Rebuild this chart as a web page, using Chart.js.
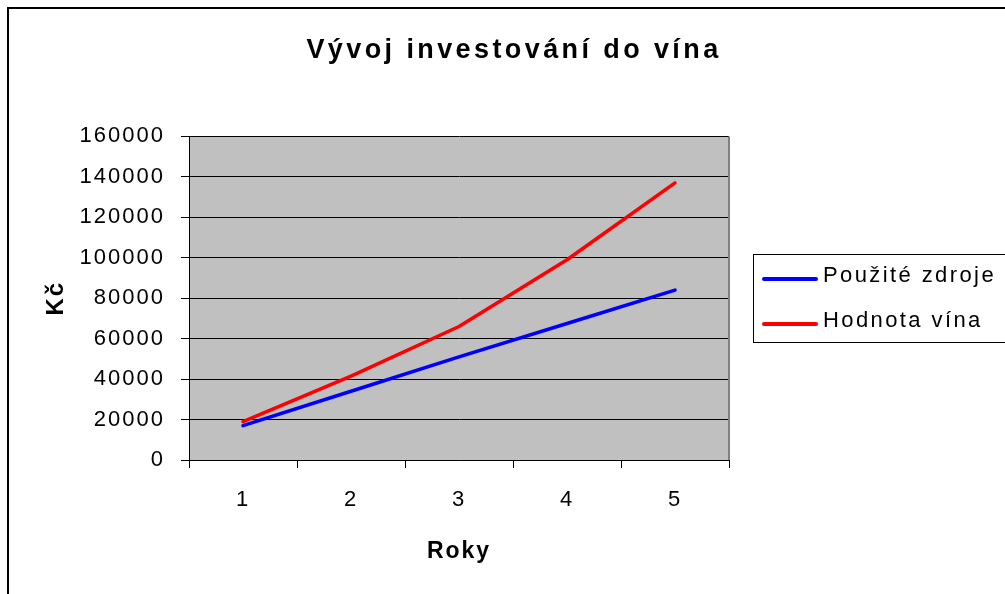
<!DOCTYPE html>
<html>
<head>
<meta charset="utf-8">
<script src="https://cdn.jsdelivr.net/npm/chart.js@4.4.1/dist/chart.umd.min.js"></script>
<style>
  html, body { margin: 0; padding: 0; background: #fff; }
  canvas { display: block; }
</style>
</head>
<body>
<canvas id="c" width="1005" height="594"></canvas>
<script>
// ---- data ----
const titleText = 'Vývoj investování do vína';
const xTitle = 'Roky';
const yTitle = 'Kč';
const categories = ['1', '2', '3', '4', '5'];
const seriesNames = ['Použité zdroje', 'Hodnota vína'];
const pouziteZdroje = [17000, 34000, 51000, 67500, 84000];
const hodnotaVina = [19000, 41500, 66000, 99000, 137000];
const yMin = 0, yMax = 160000, yStep = 20000;

const FONT = '"Liberation Sans", Arial, sans-serif';
const TEXT_SPACING = '2px';
const TITLE_SPACING = '3.4px';
const TITLE_CENTER_X = 514;

const chartFrame = {
  id: 'chartFrame',
  beforeLayout(chart) { chart.ctx.letterSpacing = TEXT_SPACING; },
  beforeDraw(chart) {
    const ctx = chart.ctx;
    ctx.letterSpacing = TEXT_SPACING;
    const a = chart.chartArea;
    ctx.save();
    ctx.fillStyle = '#C0C0C0';
    ctx.fillRect(a.left, a.top, a.right - a.left, a.bottom - a.top);
    ctx.restore();
  },
  afterDraw(chart) {
    const ctx = chart.ctx;
    const a = chart.chartArea;
    ctx.save();
    // right border of plot area
    ctx.strokeStyle = '#808080';
    ctx.lineWidth = 2;
    ctx.beginPath();
    ctx.moveTo(a.right, a.top);
    ctx.lineTo(a.right, a.bottom);
    ctx.stroke();
    // outer frame
    ctx.strokeStyle = '#000';
    ctx.lineWidth = 2;
    ctx.strokeRect(8, 8, 1010, 600);
    // legend
    ctx.lineWidth = 1;
    ctx.strokeStyle = '#000';
    ctx.strokeRect(753.5, 254.5, 270, 88);
    ctx.font = '22px ' + FONT;
    ctx.letterSpacing = '2.4px';
    ctx.textBaseline = 'middle';
    ctx.textAlign = 'left';
    const rows = [279, 324];
    chart.data.datasets.forEach((ds, i) => {
      ctx.strokeStyle = ds.borderColor;
      ctx.lineWidth = 4;
      ctx.lineCap = 'round';
      ctx.beginPath();
      ctx.moveTo(764, rows[i]);
      ctx.lineTo(816, rows[i]);
      ctx.stroke();
      ctx.fillStyle = '#000';
      ctx.fillText(ds.label, 823, rows[i] - 3);
    });
    ctx.restore();
  }
};

const ctx = document.getElementById('c').getContext('2d');
const chart = new Chart(ctx, {
  type: 'line',
  data: {
    labels: categories,
    datasets: [
      { label: seriesNames[0], data: pouziteZdroje, borderColor: '#0000FF', borderWidth: 3.5,
        pointRadius: 0, tension: 0, borderCapStyle: 'round', borderJoinStyle: 'round', fill: false },
      { label: seriesNames[1], data: hodnotaVina, borderColor: '#FF0000', borderWidth: 3.5,
        pointRadius: 0, tension: 0, borderCapStyle: 'round', borderJoinStyle: 'round', fill: false }
    ]
  },
  options: {
    responsive: false,
    animation: false,
    devicePixelRatio: 1,
    layout: { padding: { left: 0, right: 276, top: 0, bottom: 0 } },
    plugins: {
      legend: { display: false },
      tooltip: { enabled: false },
      title: {
        display: true,
        text: titleText,
        color: '#000',
        font: { family: FONT, size: 27, weight: 'bold', lineHeight: 1.2 },
        padding: { top: 34, bottom: 70 }
      }
    },
    scales: {
      x: {
        type: 'category',
        offset: true,
        grid: { display: true, offset: true, drawOnChartArea: false, drawTicks: true, tickLength: 8, color: '#000', lineWidth: 1 },
        border: { display: true, color: '#000', width: 1 },
        ticks: { color: '#000', font: { family: FONT, size: 22 }, padding: 19, maxRotation: 0, autoSkip: false },
        title: { display: true, text: xTitle, color: '#000', font: { family: FONT, size: 23, weight: 'bold', lineHeight: 1.2 },
                 padding: { top: 0, bottom: 29 } },
        afterFit(scale) { scale.height = 134; }
      },
      y: {
        min: yMin, max: yMax,
        grid: { display: true, drawOnChartArea: true, drawTicks: true, tickLength: 8, color: '#000', lineWidth: 1 },
        border: { display: true, color: '#000', width: 1 },
        ticks: { stepSize: yStep, color: '#000', font: { family: FONT, size: 22 }, padding: 16,
                 callback: v => String(v) },
        title: { display: true, text: yTitle, color: '#000', font: { family: FONT, size: 24, weight: 'bold', lineHeight: 1.2 },
                 padding: { top: 42, bottom: 0 } },
        afterFit(scale) { scale.width = 189; }
      }
    }
  },
  plugins: [chartFrame]
});

// title drawn with its own letter spacing, centred like the reference
const tb = chart.titleBlock;
if (tb) {
  const origDraw = tb.draw.bind(tb);
  tb.draw = function () {
    const c = chart.ctx;
    c.save();
    c.letterSpacing = TITLE_SPACING;
    c.translate(TITLE_CENTER_X - (tb.left + tb.right) / 2, 0);
    origDraw();
    c.restore();
  };
  chart.draw();
}
</script>
</body>
</html>
